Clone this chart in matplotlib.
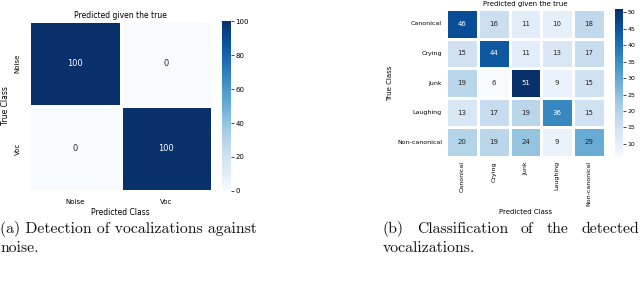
import matplotlib
matplotlib.use('Agg')
import matplotlib.pyplot as plt
import seaborn as sns
import numpy as np

# detection: noise vs vocalization
det_labels = ['Noise', 'Voc']
det_values = [[100, 0],
              [0, 100]]

# classification of detected vocalizations
cls_labels = ['Canonical', 'Crying', 'Junk', 'Laughing', 'Non-canonical']
cls_values = [[46, 16, 11, 10, 18],
              [15, 44, 11, 13, 17],
              [19, 6, 51, 9, 15],
              [13, 17, 19, 36, 15],
              [20, 19, 24, 9, 29]]

caption_a = ['(a) Detection of vocalizations against', 'noise.']
caption_b_words = ['(b)', 'Classification', 'of', 'the', 'detected']
caption_b_line2 = 'vocalizations.'


def recolor_annotations(ax, values, limit):
    # dark text on light cells, white text on dark cells
    flat = np.array(values).ravel()
    for txt, v in zip(ax.texts, flat):
        txt.set_color('white' if v >= limit else '#262626')


fig = plt.figure(figsize=(6.4, 2.85), dpi=100)

# --- left: detection ---
ax1 = fig.add_axes([0.0453, 0.330, 0.286, 0.596])
cax1 = fig.add_axes([0.347, 0.330, 0.014, 0.596])
sns.heatmap(np.array(det_values), ax=ax1, cbar_ax=cax1, cmap='Blues', annot=True, fmt='d',
            linewidths=0.8, linecolor='white', vmin=0, vmax=100,
            xticklabels=det_labels, yticklabels=det_labels, annot_kws={'fontsize': 6})
recolor_annotations(ax1, det_values, 50)
ax1.set_title('Predicted given the true', fontsize=5.5, pad=2)
ax1.set_xlabel('Predicted Class', fontsize=5.5, labelpad=2)
ax1.set_ylabel('True Class', fontsize=5.5, labelpad=3)
ax1.tick_params(labelsize=5, length=0, pad=6)
plt.setp(ax1.get_yticklabels(), rotation=90, va='center')
cax1.tick_params(labelsize=5, length=2, width=0.5, pad=1)
cax1.set_yticks([0, 20, 40, 60, 80, 100])

# --- right: classification ---
ax2 = fig.add_axes([0.697, 0.449, 0.248, 0.519])
cax2 = fig.add_axes([0.961, 0.449, 0.0125, 0.519])
sns.heatmap(np.array(cls_values), ax=ax2, cbar_ax=cax2, cmap='Blues', annot=True, fmt='d',
            linewidths=0.8, linecolor='white',
            xticklabels=cls_labels, yticklabels=cls_labels, annot_kws={'fontsize': 5})
recolor_annotations(ax2, cls_values, 33)
ax2.set_title('Predicted given the true', fontsize=5, pad=2)
ax2.set_xlabel('Predicted Class', fontsize=5, labelpad=2)
ax2.set_ylabel('True Class', fontsize=5, labelpad=3)
ax2.tick_params(labelsize=4.5, length=0, pad=3)
plt.setp(ax2.get_xticklabels(), rotation=90)
plt.setp(ax2.get_yticklabels(), rotation=0)
cax2.tick_params(labelsize=4.5, length=2, width=0.5, pad=1)
cax2.set_yticks([10, 15, 20, 25, 30, 35, 40, 45, 50])

# --- captions ---
cap_font = dict(family='cmr10', fontsize=11.3, color='#111111')
y1 = 1 - 229 / 285
y2 = 1 - 248 / 285
fig.text(0.0, y1, caption_a[0], va='center', ha='left', **cap_font)
fig.text(0.0, y2, caption_a[1], va='center', ha='left', **cap_font)

# justified first line of caption (b): spread words between 383 and 639 px
renderer = fig.canvas.get_renderer()
x_left, x_right = 383, 639
word_texts = [fig.text(0, y1, w, va='center', ha='left', **cap_font) for w in caption_b_words]
widths = [t.get_window_extent(renderer).width for t in word_texts]
gap = (x_right - x_left - sum(widths)) / (len(widths) - 1)
x = x_left
for t, w in zip(word_texts, widths):
    t.set_x(x / 640)
    x += w + gap
fig.text(x_left / 640, y2, caption_b_line2, va='center', ha='left', **cap_font)

fig.savefig('out.png', dpi=100)
